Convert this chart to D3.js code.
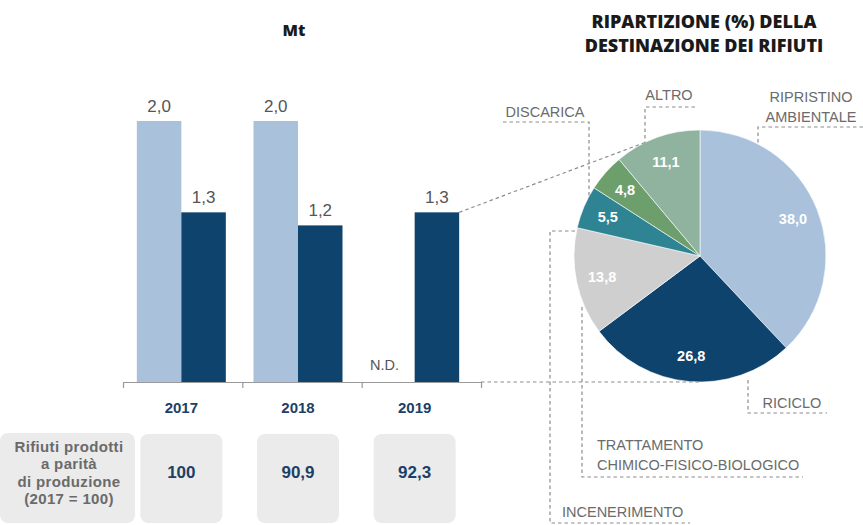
<!DOCTYPE html>
<html lang="it">
<head>
<meta charset="utf-8">
<script src="https://cdn.jsdelivr.net/npm/d3@7"></script>
<style>
  html, body { margin: 0; padding: 0; background: #fff; }
  svg { display: block; }
</style>
</head>
<body>
<svg id="chart" width="863" height="525"></svg>
<script>
// Rifiuti prodotti (Mt) per anno
const anni = ["2017", "2018", "2019"];
const valoriChiari = [2.0, 2.0, null];   // null = dato non disponibile
const valoriScuri = [1.3, 1.2, 1.3];
const indiceProduzione = [100, 90.9, 92.3];

// Ripartizione (%) della destinazione dei rifiuti, 2019
const destinazioni = ["RIPRISTINO AMBIENTALE", "RICICLO", "TRATTAMENTO CHIMICO-FISICO-BIOLOGICO",
                      "INCENERIMENTO", "DISCARICA", "ALTRO"];
const quote = [38.0, 26.8, 13.8, 5.5, 4.8, 11.1];
const coloriQuote = ["#a9c1db", "#0e436e", "#cfcfcf", "#2f8494", "#6d9f6d", "#90b3a0"];

const it = d3.formatLocale({ decimal: ",", thousands: ".", grouping: [3], currency: ["", " €"] });
const fmt1 = it.format(".1f");
const fmtIdx = v => Number.isInteger(v) ? String(v) : fmt1(v);

const svg = d3.select("#chart");
const SANS = "'Liberation Sans', Arial, sans-serif";
const TITLE = "'Open Sans', 'Liberation Sans', sans-serif";
const grigioTesto = "#6b6b6b";
const blu = "#1d3f66";
const tratteggio = "#8c8c8c";

// ---------- titoli ----------
svg.append("text").attr("x", 294).attr("y", 36).attr("text-anchor", "middle")
  .attr("font-family", TITLE).attr("font-weight", 800).attr("font-size", 16).attr("fill", "#1a1a1a")
  .text("Mt");
const titolo = svg.append("text").attr("text-anchor", "middle")
  .attr("font-family", TITLE).attr("font-weight", 800).attr("font-size", 18).attr("fill", "#1a1a1a");
titolo.append("tspan").attr("x", 704).attr("y", 28).text("RIPARTIZIONE (%) DELLA");
titolo.append("tspan").attr("x", 704).attr("y", 52).text("DESTINAZIONE DEI RIFIUTI");

// ---------- istogramma ----------
const x0 = d3.scaleBand().domain(anni).range([123, 473]);
const x1 = d3.scaleBand().domain(["chiaro", "scuro"]).range([-44.5, 44.5]);
const y = d3.scaleLinear().domain([0, 2]).range([382, 121]);

const serie = [
  { key: "chiaro", valori: valoriChiari, colore: "#a9c1db" },
  { key: "scuro", valori: valoriScuri, colore: "#0e436e" }
];

const gBar = svg.append("g");
serie.forEach(s => {
  anni.forEach((anno, i) => {
    const v = s.valori[i];
    const cx = x0(anno) + x0.bandwidth() / 2 + x1(s.key);
    if (v == null) {
      gBar.append("text").attr("x", cx + x1.bandwidth() / 2 - 8).attr("y", 370)
        .attr("text-anchor", "middle").attr("font-family", SANS).attr("font-size", 14.5)
        .attr("fill", "#555").text("N.D.");
      return;
    }
    gBar.append("rect").attr("x", cx).attr("y", y(v))
      .attr("width", x1.bandwidth()).attr("height", y(0) - y(v)).attr("fill", s.colore);
    gBar.append("text").attr("x", cx + x1.bandwidth() / 2).attr("y", y(v) - 9)
      .attr("text-anchor", "middle").attr("font-family", SANS).attr("font-size", 17)
      .attr("fill", "#555").text(fmt1(v));
  });
});

// asse con tacche tra i gruppi
const bordi = d3.scalePoint().domain(d3.range(anni.length + 1)).range([123, 481]);
const asse = svg.append("g").attr("transform", `translate(0,${y(0)})`)
  .call(d3.axisBottom(bordi).tickSize(6).tickSizeOuter(0).tickFormat(""));
asse.selectAll("path, line").attr("stroke", "#9a9a9a").attr("stroke-width", 1.2);

svg.append("g").selectAll("text").data(anni).join("text")
  .attr("x", d => x0(d) + x0.bandwidth() / 2).attr("y", 413)
  .attr("text-anchor", "middle").attr("font-family", SANS).attr("font-weight", 700)
  .attr("font-size", 15).attr("fill", blu).text(d => d);

// ---------- tabella indice ----------
svg.append("rect").attr("x", 0).attr("y", 433).attr("width", 135).attr("height", 90)
  .attr("rx", 8).attr("fill", "#ebebeb");
const etichetta = svg.append("text").attr("text-anchor", "middle").attr("font-family", SANS)
  .attr("font-weight", 700).attr("font-size", 15).attr("letter-spacing", 0.35).attr("fill", "#6a6a6a");
["Rifiuti prodotti", "a parità", "di produzione", "(2017 = 100)"].forEach((r, i) =>
  etichetta.append("tspan").attr("x", 69).attr("y", 452 + i * 17.3).text(r));

const celle = svg.append("g").selectAll("g").data(anni).join("g")
  .attr("transform", d => `translate(${x0(d) + x0.bandwidth() / 2},0)`);
celle.append("rect").attr("x", -41).attr("y", 434).attr("width", 82).attr("height", 89)
  .attr("rx", 8).attr("fill", "#ebebeb");
celle.append("text").attr("y", 478).attr("text-anchor", "middle").attr("font-family", SANS)
  .attr("font-weight", 700).attr("font-size", 17).attr("fill", blu)
  .text((d, i) => fmtIdx(indiceProduzione[i]));

// ---------- torta ----------
const cx = 700, cy = 256, r = 126;
const pie = d3.pie().sort(null).value(d => d)(quote);
const arc = d3.arc().innerRadius(0).outerRadius(r);
const arcLabel = d3.arc().innerRadius(100).outerRadius(100);
const gPie = svg.append("g").attr("transform", `translate(${cx},${cy})`);
gPie.selectAll("path").data(pie).join("path")
  .attr("d", arc).attr("fill", (d, i) => coloriQuote[i])
  .attr("stroke", "#fff").attr("stroke-width", 0.6);
gPie.selectAll("text").data(pie).join("text")
  .attr("transform", d => `translate(${arcLabel.centroid(d)})`)
  .attr("text-anchor", "middle").attr("dy", "0.35em")
  .attr("font-family", SANS).attr("font-weight", 700).attr("font-size", 14.5)
  .attr("fill", "#fff").text(d => fmt1(d.data));

// punto sul bordo superiore della torta a una data ascissa
const bordoSu = x => cy - Math.sqrt(r * r - (x - cx) * (x - cx));

// linee di collegamento tra la barra 2019 e la torta
const xBar = x0("2019") + x0.bandwidth() / 2 + x1("scuro") + x1.bandwidth();
const tratt = (pts) => svg.append("path")
  .attr("d", d3.line()(pts)).attr("fill", "none")
  .attr("stroke", tratteggio).attr("stroke-width", 1.2).attr("stroke-dasharray", "3.5,3");
tratt([[xBar, y(valoriScuri[2])], [647, bordoSu(647)]]);
tratt([[bordi.range()[1], y(0)], [cx, cy + r]]);

// richiami delle etichette
tratt([[863, 127], [758, 127], [758, bordoSu(758)]]);
tratt([[695, 107], [645, 107], [645, bordoSu(645)]]);
tratt([[503, 122], [589, 122], [589, bordoSu(589)]]);
tratt([[575, 231], [550, 231], [550, 523], [690, 523]]);
tratt([[582, 307], [582, 477], [803, 477]]);
tratt([[748, 380], [748, 413], [827, 413]]);

const etichettaPie = (righe, x, y0, anchor) => {
  const t = svg.append("text").attr("text-anchor", anchor).attr("font-family", SANS)
    .attr("font-size", 14.5).attr("fill", grigioTesto);
  righe.forEach((riga, i) => t.append("tspan").attr("x", x).attr("y", y0 + i * 20).text(riga));
};
etichettaPie(["RIPRISTINO", "AMBIENTALE"], 811, 101.5, "middle");
etichettaPie(["ALTRO"], 669, 100, "middle");
etichettaPie(["DISCARICA"], 545, 116.5, "middle");
etichettaPie(["RICICLO"], 792, 408, "middle");
etichettaPie(["TRATTAMENTO", "CHIMICO-FISICO-BIOLOGICO"], 597, 450, "start");
etichettaPie(["INCENERIMENTO"], 562, 517, "start");
</script>
</body>
</html>
